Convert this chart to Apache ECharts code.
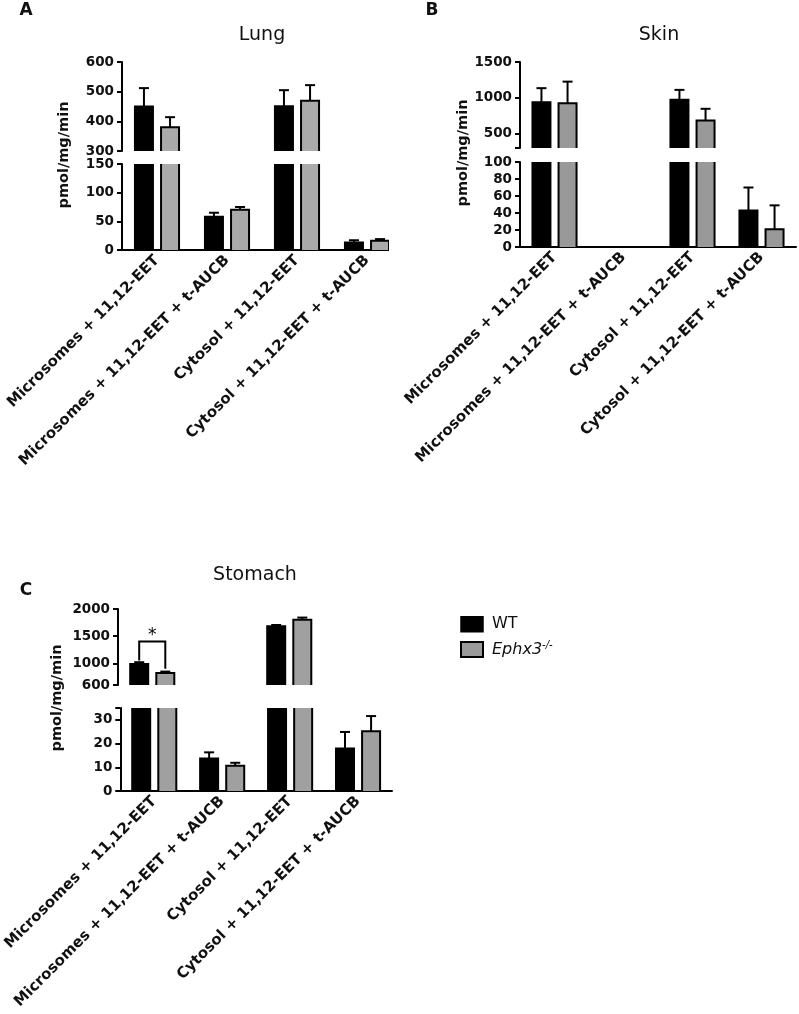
<!DOCTYPE html>
<html><head><meta charset="utf-8">
<script src="https://cdn.jsdelivr.net/npm/echarts@6/dist/echarts.min.js"></script>
<style>html,body{margin:0;padding:0;background:#fff}#c{width:799px;height:1014px}</style>
</head><body><div id="c"></div>
<script>
// ---- data ----
const categories = ['Microsomes + 11,12-EET', 'Microsomes + 11,12-EET + t-AUCB', 'Cytosol + 11,12-EET', 'Cytosol + 11,12-EET + t-AUCB'];
const seriesNames = ['WT', 'Ephx3-/-'];

const lungWT = [450, 58, 451, 13];
const lungWTErr = [62, 7, 54, 4];
const lungKO = [380, 70, 469, 16];
const lungKOErr = [34, 5, 53, 3];

const skinWT = [940, 0, 972, 43];
const skinWTErr = [195, 0, 139, 27];
const skinKO = [926, 0, 685, 21];
const skinKOErr = [300, 0, 162, 28];

const stomachWT = [985, 13.7, 1680, 17.9];
const stomachWTErr = [35, 2.6, 25, 7];
const stomachKO = [820, 10.6, 1800, 25.2];
const stomachKOErr = [27, 1.3, 42, 6.4];

// axis segments (broken axes): [min, max]
const lungTopRange = [300, 600];
const lungBottomRange = [0, 150];
const skinTopRange = [300, 1500];
const skinBottomRange = [0, 100];
const stomachTopRange = [600, 2000];
const stomachBottomRange = [0, 35];

// tick labels
const lungTopTicks = [300, 400, 500, 600];
const lungBottomTicks = [0, 50, 100, 150];
const skinTopTicks = [500, 1000, 1500];
const skinBottomTicks = [0, 20, 40, 60, 80, 100];
const stomachTopTicks = [600, 1000, 1500, 2000];
const stomachBottomTicks = [0, 10, 20, 30];

// significance bracket (stomach, microsomes): [category, leftLegBottom, top, rightLegBottom]
const stomachSig = [0, 1050, 1400, 900];

// ---- drawing ----
const FONT = 'DejaVu Sans';
const BW = 18, GAP = 0.45;
const OFF = (BW + BW * GAP) / 2;
const CAP = 10;

const grids = [], xAxes = [], yAxes = [], series = [];

// bar outline (no edge at the axis cut) + upper error bar
function outlineRender(min, max) {
  return function (params, api) {
    const cat = api.value(0), mean = api.value(1), up = api.value(2), side = api.value(3);
    if (!(mean > min)) return null;
    const base = api.coord([cat, min]);
    const top = api.coord([cat, Math.min(mean, max)]);
    const x = base[0] + side * OFF;
    const xl = x - BW / 2, xr = x + BW / 2;
    const st = { stroke: '#000', lineWidth: 2, fill: null };
    const ch = [];
    if (mean <= max) {
      ch.push({ type: 'polyline', shape: { points: [[xl, base[1]], [xl, top[1]], [xr, top[1]], [xr, base[1]]] }, style: st });
      if (up > mean) {
        const t = api.coord([cat, Math.min(up, max)]);
        ch.push({ type: 'line', shape: { x1: x, y1: top[1], x2: x, y2: t[1] }, style: st });
        ch.push({ type: 'line', shape: { x1: x - CAP / 2, y1: t[1], x2: x + CAP / 2, y2: t[1] }, style: st });
      }
    } else {
      ch.push({ type: 'line', shape: { x1: xl, y1: base[1], x2: xl, y2: top[1] }, style: st });
      ch.push({ type: 'line', shape: { x1: xr, y1: base[1], x2: xr, y2: top[1] }, style: st });
    }
    return { type: 'group', children: ch };
  };
}

function addSegment(cfg) {
  const gi = grids.length;
  grids.push({ left: cfg.left, top: cfg.top, width: cfg.width, height: cfg.height });
  xAxes.push({
    gridIndex: gi, type: 'category', data: categories, show: cfg.showX,
    axisLine: { lineStyle: { color: '#000', width: 2 } },
    axisTick: { alignWithLabel: true, length: 5, lineStyle: { color: '#000', width: 2 } },
    axisLabel: { interval: 0, rotate: 45, margin: 8, fontFamily: FONT, fontWeight: 'bold', fontSize: 15, color: '#111' }
  });
  yAxes.push({
    gridIndex: gi, type: 'value', min: cfg.range[0], max: cfg.range[1], offset: cfg.offset || 0,
    splitLine: { show: false },
    axisLine: { show: true, lineStyle: { color: '#000', width: 2 } },
    axisTick: { show: true, length: 5, lineStyle: { color: '#000', width: 2 }, customValues: cfg.tickMarks },
    axisLabel: { customValues: cfg.labels, formatter: v => String(v), margin: 8, fontFamily: FONT, fontWeight: 'bold', fontSize: 13.5, color: '#111' }
  });
  series.push({
    type: 'bar', name: seriesNames[0], xAxisIndex: gi, yAxisIndex: gi, data: cfg.wt,
    barWidth: BW, barGap: (GAP * 100) + '%', clip: true, silent: true,
    itemStyle: { color: '#000', borderWidth: 0 }
  });
  series.push({
    type: 'bar', name: seriesNames[1], xAxisIndex: gi, yAxisIndex: gi, data: cfg.ko,
    barWidth: BW, barGap: (GAP * 100) + '%', clip: true, silent: true,
    itemStyle: { color: cfg.koColor, borderWidth: 0 }
  });
  const errData = cfg.wt.map((v, i) => [i, v, v + cfg.wtErr[i], -1])
    .concat(cfg.ko.map((v, i) => [i, v, v + cfg.koErr[i], 1]));
  series.push({
    type: 'custom', xAxisIndex: gi, yAxisIndex: gi, data: errData, silent: true, z: 3,
    renderItem: outlineRender(cfg.range[0], cfg.range[1])
  });
  return gi;
}

// Panel A - Lung
addSegment({ left: 122, top: 62, width: 280, height: 89, range: lungTopRange, labels: lungTopTicks, tickMarks: lungTopTicks,
  showX: false, wt: lungWT, ko: lungKO, wtErr: lungWTErr, koErr: lungKOErr, koColor: '#aaaaaa' });
addSegment({ left: 122, top: 164, width: 280, height: 86, range: lungBottomRange, labels: lungBottomTicks, tickMarks: lungBottomTicks,
  showX: true, wt: lungWT, ko: lungKO, wtErr: lungWTErr, koErr: lungKOErr, koColor: '#aaaaaa' });
// Panel B - Skin
addSegment({ left: 520, top: 62, width: 276, height: 86, range: skinTopRange, labels: skinTopTicks, tickMarks: [skinTopRange[0]].concat(skinTopTicks),
  showX: false, wt: skinWT, ko: skinKO, wtErr: skinWTErr, koErr: skinKOErr, koColor: '#999999' });
addSegment({ left: 520, top: 162, width: 276, height: 85, range: skinBottomRange, labels: skinBottomTicks, tickMarks: skinBottomTicks,
  showX: true, wt: skinWT, ko: skinKO, wtErr: skinWTErr, koErr: skinKOErr, koColor: '#999999' });
// Panel C - Stomach
const cTop = addSegment({ left: 118, top: 609, width: 274, height: 76, range: stomachTopRange, labels: stomachTopTicks, tickMarks: stomachTopTicks,
  showX: false, wt: stomachWT, ko: stomachKO, wtErr: stomachWTErr, koErr: stomachKOErr, koColor: '#a0a0a0' });
addSegment({ left: 118, top: 708, width: 274, height: 83, range: stomachBottomRange, labels: stomachBottomTicks, tickMarks: stomachBottomTicks.concat([stomachBottomRange[1]]),
  showX: true, wt: stomachWT, ko: stomachKO, wtErr: stomachWTErr, koErr: stomachKOErr, koColor: '#a0a0a0' });

// significance bracket
series.push({
  type: 'custom', xAxisIndex: cTop, yAxisIndex: cTop, data: [stomachSig], silent: true, z: 4,
  renderItem: function (params, api) {
    const cat = api.value(0);
    const pl = api.coord([cat, api.value(1)]);
    const pt = api.coord([cat, api.value(2)]);
    const pr = api.coord([cat, api.value(3)]);
    const xl = pl[0] - OFF, xr = pl[0] + OFF;
    return {
      type: 'group', children: [
        { type: 'polyline', shape: { points: [[xl, pl[1]], [xl, pt[1]], [xr, pt[1]], [xr, pr[1]]] }, style: { stroke: '#000', lineWidth: 2, fill: null } },
        { type: 'text', x: pl[0], y: pt[1] + 3, style: { text: '*', align: 'center', verticalAlign: 'bottom', fontSize: 17, fontFamily: FONT, fill: '#000' } }
      ]
    };
  }
});

const txt = (x, y, text, size, weight, extra) => Object.assign({
  type: 'text', x: x, y: y, z: 50,
  style: { text: text, fontFamily: FONT, fontSize: size, fontWeight: weight, fill: '#111', align: 'center', verticalAlign: 'middle' }
}, extra || {});

const option = {
  animation: false,
  backgroundColor: '#fff',
  grid: grids, xAxis: xAxes, yAxis: yAxes, series: series,
  legend: {
    orient: 'vertical', left: 460, top: 616, padding: 0, itemGap: 8, itemWidth: 22, itemHeight: 15,
    selectedMode: false, icon: 'rect',
    data: [
      { name: seriesNames[0], itemStyle: { color: '#000', borderColor: '#000', borderWidth: 1.5 } },
      { name: seriesNames[1], itemStyle: { color: '#9a9a9a', borderColor: '#000', borderWidth: 2 } }
    ],
    formatter: function (n) { return n === 'WT' ? '{n|WT}' : '{i|Ephx3}{s|-/-}'; },
    textStyle: {
      padding: [0, 0, 0, 4],
      rich: {
        n: { fontFamily: FONT, fontSize: 16, color: '#111' },
        i: { fontFamily: FONT, fontSize: 16, fontStyle: 'italic', color: '#111' },
        s: { fontFamily: FONT, fontSize: 10, fontStyle: 'italic', color: '#111', verticalAlign: 'top', padding: [0, 0, 8, 0] }
      }
    }
  },
  graphic: [
    // crop of panel A at its right edge
    { type: 'rect', shape: { x: 389, y: 40, width: 14, height: 214 }, style: { fill: '#fff' }, z: 100 },
    txt(26, 11, 'A', 17, 'bold'),
    txt(432, 11, 'B', 17, 'bold'),
    txt(26, 591, 'C', 17, 'bold'),
    txt(262, 35, 'Lung', 19, 'normal'),
    txt(659, 35, 'Skin', 19, 'normal'),
    txt(255, 575, 'Stomach', 19, 'normal'),
    txt(64, 155, 'pmol/mg/min', 14.5, 'bold', { rotation: Math.PI / 2 }),
    txt(463, 153, 'pmol/mg/min', 14.5, 'bold', { rotation: Math.PI / 2 }),
    txt(57, 698, 'pmol/mg/min', 14.5, 'bold', { rotation: Math.PI / 2 })
  ]
};

const chart = echarts.init(document.getElementById('c'), null, { renderer: 'canvas' });
chart.setOption(option);
</script>
</body></html>
